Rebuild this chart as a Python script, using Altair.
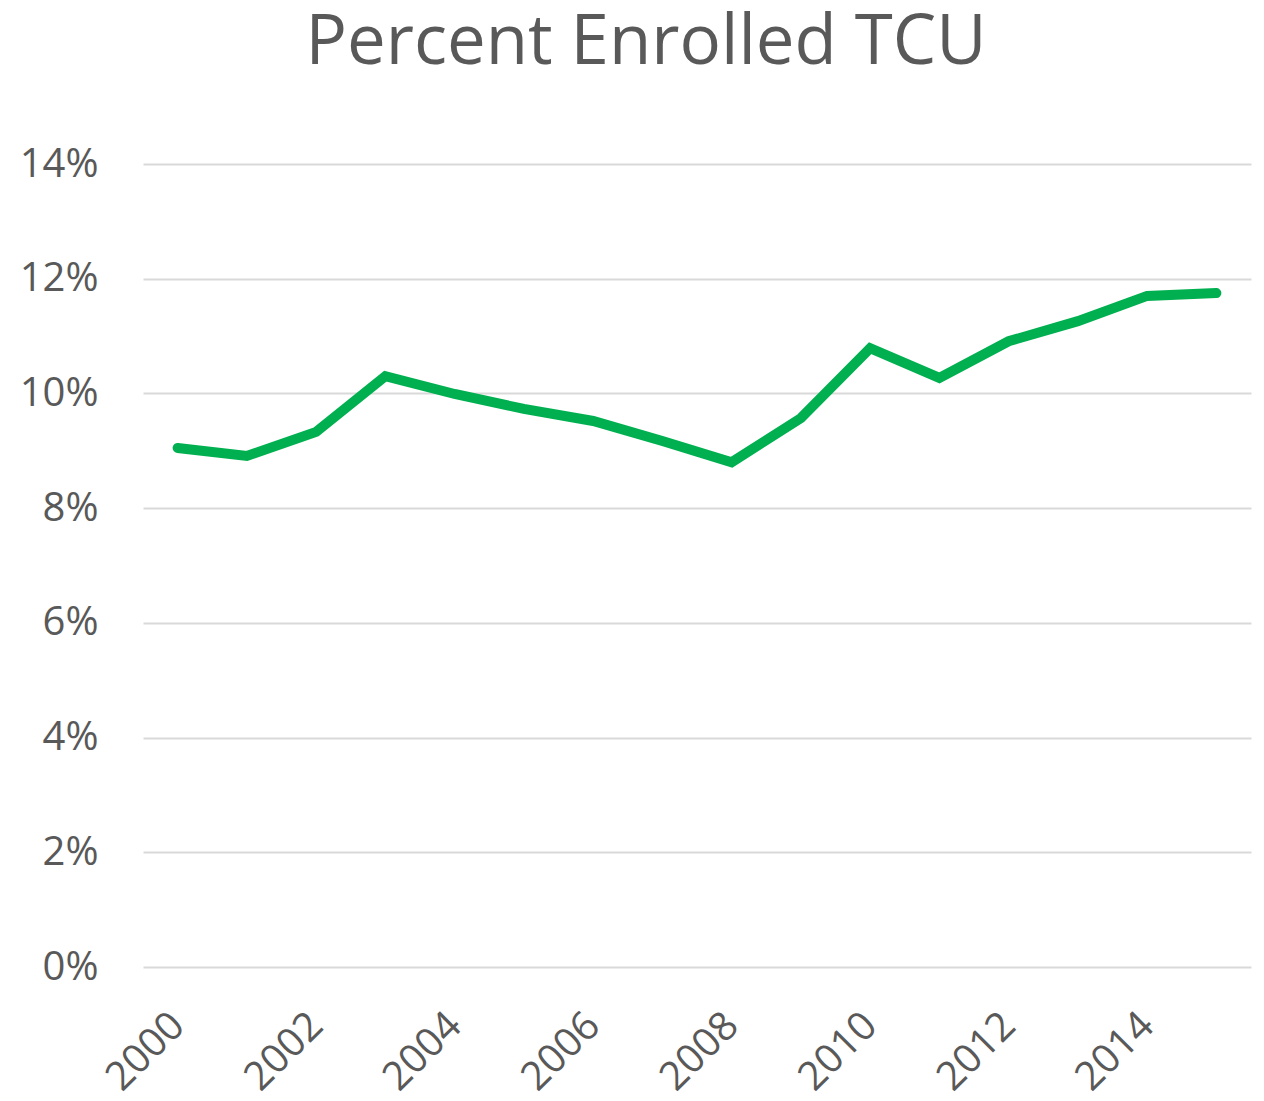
import altair as alt
import pandas as pd

years = list(range(2000, 2016))
pct = [9.05, 8.91, 9.33, 10.30, 9.99, 9.73, 9.52, 9.17, 8.80, 9.57, 10.79, 10.27, 10.91, 11.26, 11.70, 11.75]
tick_years = [2000, 2002, 2004, 2006, 2008, 2010, 2012, 2014]
y_ticks = [0, 0.02, 0.04, 0.06, 0.08, 0.10, 0.12, 0.14]

df = pd.DataFrame({"year": years, "pct": [v / 100 for v in pct]})

FONT = "Open Sans"
TXT = "#595959"

chart = alt.Chart(df).mark_line(
    color="#00B050", strokeWidth=10, strokeCap="round", strokeJoin="miter"
).encode(
    x=alt.X("year:O", title=None,
            scale=alt.Scale(padding=0.5),
            axis=alt.Axis(values=tick_years, labelAngle=-45, labelAlign="right",
                          labelBaseline="middle", labelFontSize=40, labelFont=FONT,
                          labelColor=TXT, ticks=False, domain=False, labelPadding=52,
                          grid=False)),
    y=alt.Y("pct:Q", title=None,
            scale=alt.Scale(domain=[0, 0.14], nice=False),
            axis=alt.Axis(values=y_ticks, format=".0%", labelFontSize=40, labelFont=FONT,
                          labelColor=TXT, ticks=False, domain=False, labelPadding=45,
                          gridColor="#D9D9D9", gridWidth=2)),
).properties(
    width=1108, height=803,
    background="white",
    title=alt.TitleParams("Percent Enrolled TCU", font=FONT, fontSize=69, fontWeight="normal",
                          color=TXT, anchor="middle", dx=-51, baseline="bottom", offset=-3),
    autosize=alt.AutoSizeParams(type="none"),
    padding={"left": 135, "top": 156, "right": 5, "bottom": 150},
).configure_view(strokeWidth=0, stroke="transparent")

chart.save("out.html", embed_options={"renderer": "svg", "actions": False})
